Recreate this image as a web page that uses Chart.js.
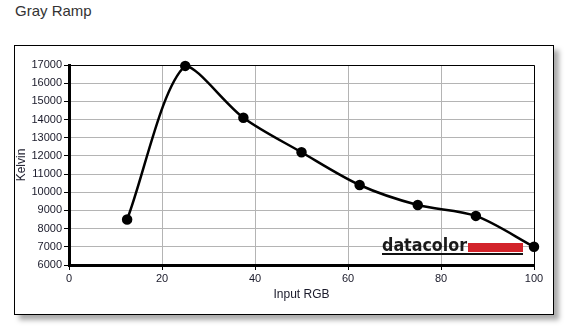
<!DOCTYPE html>
<html>
<head>
  <title>Gray Ramp</title>
  <script src="https://cdn.jsdelivr.net/npm/chart.js"></script>
  <style>
    body {
      margin: 0;
      background: #fff;
      font-family: Arial, "Liberation Sans", sans-serif;
    }
    .title {
      position: absolute;
      left: 15px;
      top: 2px;
      font-size: 15px;
      color: #333;
    }
    .frame {
      position: absolute;
      left: 14px;
      top: 45px;
      width: 538px;
      height: 268px;
      border: 1px solid #000;
      box-shadow: 5px 5px 5px #aaa;
      background: #fff;
    }
    .wrap {
      position: absolute;
      left: 0;
      top: 0;
      width: 567px;
      height: 326px;
    }
  </style>
</head>
<body>
  <div class="title">Gray Ramp</div>
  <div class="frame"></div>
  <div class="wrap"><canvas id="myChart"></canvas></div>
  <script>
    // values
    var inputRGB = [12.5, 25, 37.5, 50, 62.5, 75, 87.5, 100];
    var kelvin = [8500, 16950, 14100, 12200, 10400, 9300, 8700, 7000];

    var points = inputRGB.map(function (x, i) { return { x: x, y: kelvin[i] }; });

    // logo + thin top/right frame of the plot
    var plotExtras = {
      id: 'plotExtras',
      beforeDatasetsDraw: function (chart) {
        var c = chart.ctx;
        var a = chart.chartArea;
        c.save();
        c.strokeStyle = '#000';
        c.lineWidth = 1;
        c.beginPath();
        c.moveTo(a.left, a.top + 0.5);
        c.lineTo(a.right + 0.5, a.top + 0.5);
        c.lineTo(a.right + 0.5, a.bottom);
        c.stroke();

        c.font = 'bold 17px "DejaVu Sans", sans-serif';
        c.fillStyle = '#1a1a1a';
        c.textBaseline = 'alphabetic';
        c.fillText('datacolor', 382, 251, 85);
        c.fillStyle = '#d2232a';
        c.fillRect(468, 243, 55, 9);
        c.fillStyle = '#111';
        c.fillRect(382, 253, 141, 2);
        c.restore();
      }
    };

    const ctx = document.getElementById('myChart').getContext('2d');
    const chart = new Chart(ctx, {
      type: 'scatter',
      data: {
        datasets: [{
          data: points,
          showLine: true,
          borderColor: '#000',
          backgroundColor: '#000',
          borderWidth: 2.5,
          pointRadius: 4,
          pointHoverRadius: 4,
          tension: 0.3,
          clip: false
        }]
      },
      options: {
        responsive: true,
        maintainAspectRatio: false,
        animation: false,
        layout: { padding: { left: 10, top: 65, right: 33, bottom: 20 } },
        plugins: {
          legend: { display: false },
          tooltip: { enabled: false }
        },
        scales: {
          x: {
            type: 'linear',
            min: 0,
            max: 100,
            ticks: {
              stepSize: 20,
              color: '#1a1a2a',
              font: { family: 'Arial', size: 11 },
              padding: 2
            },
            grid: { color: '#b4b4b4', tickColor: '#000', tickLength: 5 },
            border: { color: '#000', width: 3 },
            title: {
              display: true,
              text: 'Input RGB',
              color: '#1a1a2a',
              font: { family: 'Arial', size: 12 }
            },
            afterFit: function (s) { s.height = 326 - 20 - 65 - 200; }
          },
          y: {
            min: 6000,
            max: 17000,
            ticks: {
              stepSize: 1000,
              color: '#1a1a2a',
              font: { family: 'Arial', size: 11 },
              padding: 2,
              callback: function (v) { return String(v); }
            },
            grid: { color: '#b4b4b4', tickColor: '#000', tickLength: 5 },
            border: { color: '#000', width: 3 },
            title: {
              display: true,
              text: 'Kelvin',
              color: '#1a1a2a',
              font: { family: 'Arial', size: 12 }
            },
            afterFit: function (s) { s.width = 59; }
          }
        }
      },
      plugins: [plotExtras]
    });
  </script>
</body>
</html>
